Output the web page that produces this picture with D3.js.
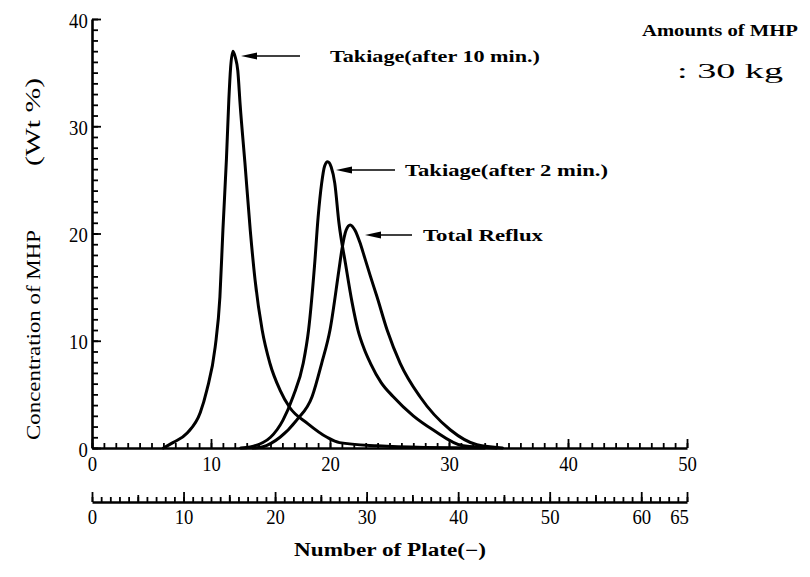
<!DOCTYPE html>
<html>
<head>
<meta charset="utf-8">
<script src="https://cdn.jsdelivr.net/npm/d3@7"></script>
<style>
  html, body { margin: 0; padding: 0; background: #fff; }
  svg { display: block; }
  text { font-family: "Liberation Serif", "DejaVu Serif", serif; fill: #000; }
</style>
</head>
<body>
<svg id="chart" width="810" height="577"></svg>
<script>
// ---- Data ----
const takiage10X = [6.0, 6.8, 8.0, 9.1, 9.65, 10.35, 10.75, 11.0, 11.3, 11.5, 11.65, 11.85, 12.05, 12.25, 12.45, 12.85, 13.3, 13.7, 14.3, 14.95, 15.8, 16.6, 18.1, 19.75, 20.8, 24.0, 28.0, 33.0];
const takiage10Y = [0.0, 0.5, 1.4, 3.3, 5.4, 9.4, 14.1, 20.3, 27.0, 32.5, 35.5, 37.0, 36.4, 35.2, 32.0, 26.6, 20.3, 15.7, 11.0, 7.9, 5.4, 3.8, 2.3, 1.0, 0.5, 0.2, 0.05, 0.0];

const takiage2X = [12.5, 13.3, 15.0, 16.05, 16.9, 17.75, 18.2, 18.7, 19.0, 19.3, 19.55, 19.8, 20.1, 20.4, 20.75, 21.3, 21.85, 22.35, 22.85, 23.4, 24.3, 25.3, 27.0, 28.65, 31.2, 34.0];
const takiage2Y = [0.0, 0.1, 1.0, 2.6, 4.8, 7.9, 11.0, 17.0, 21.5, 24.7, 26.3, 26.7, 26.2, 24.7, 21.0, 17.2, 13.6, 11.0, 9.3, 7.9, 6.1, 4.8, 3.0, 1.7, 0.2, 0.0];

const refluxX = [13.5, 14.3, 15.8, 17.2, 18.5, 19.3, 20.0, 20.75, 21.0, 21.35, 21.7, 22.1, 22.5, 22.9, 23.4, 23.95, 24.8, 25.9, 27.55, 30.1, 32.35, 34.5];
const refluxY = [0.0, 0.1, 1.0, 2.6, 4.8, 7.9, 11.0, 16.6, 18.5, 20.3, 20.8, 20.3, 19.2, 17.8, 16.0, 14.1, 11.0, 7.9, 4.8, 1.7, 0.3, 0.0];

const yTickLabels = [0, 10, 20, 30, 40];
const xTopTickLabels = [0, 10, 20, 30, 40, 50];
const xBottomTickLabels = [0, 10, 20, 30, 40, 50, 60, 65];

const annotations = [
  { text: "Takiage(after 10 min.)", series: "t10" },
  { text: "Takiage(after 2 min.)", series: "t2" },
  { text: "Total Reflux", series: "tr" }
];

// ---- Layout ----
const svg = d3.select("#chart");
const x = d3.scaleLinear().domain([0, 50]).range([92, 687]);
const x2 = d3.scaleLinear().domain([0, 65]).range([92, 687]);
const y = d3.scaleLinear().domain([0, 40]).range([448, 19]);
const bottomY = 502;
const AXIS_W = 2.6, TICK_W = 1.8;

function styleAxis(g, keepDomain) {
  g.selectAll(".tick line").attr("stroke", "#000").attr("stroke-width", TICK_W);
  if (keepDomain) g.select(".domain").attr("stroke", "#000").attr("stroke-width", AXIS_W);
  else g.select(".domain").remove();
  g.selectAll(".tick text").attr("fill", "#000").attr("font-size", 22)
    .attr("font-family", "Liberation Serif, DejaVu Serif, serif")
    .attr("transform", "scale(0.85,1)");
}

// Left (concentration) axis: minor ticks every 1, major every 10
svg.append("g").attr("transform", `translate(${x(0)},0)`)
  .call(d3.axisLeft(y).tickValues(d3.range(0, 41, 1)).tickSizeInner(-6).tickSizeOuter(0).tickFormat(""))
  .call(g => styleAxis(g, false));
svg.append("g").attr("transform", `translate(${x(0)},0)`)
  .call(d3.axisLeft(y).tickValues(yTickLabels).tickSizeInner(-9).tickSizeOuter(0).tickPadding(5).tickFormat(d3.format("d")))
  .call(g => styleAxis(g, true))
  .call(g => g.selectAll(".tick text").attr("transform", "translate(0,1) scale(0.85,1)"));

// Top x axis (plate number 0-50)
svg.append("g").attr("transform", `translate(0,${y(0)})`)
  .call(d3.axisBottom(x).tickValues(d3.range(0, 51, 1)).tickSizeInner(-5).tickSizeOuter(0).tickFormat(""))
  .call(g => styleAxis(g, false));
svg.append("g").attr("transform", `translate(0,${y(0)})`)
  .call(d3.axisBottom(x).tickValues(xTopTickLabels).tickSizeInner(-9).tickSizeOuter(0).tickPadding(7).tickFormat(d3.format("d")))
  .call(g => styleAxis(g, true));

// Bottom x axis (alternate plate scale 0-65)
svg.append("g").attr("transform", `translate(0,${bottomY})`)
  .call(d3.axisBottom(x2).tickValues(d3.range(0, 66, 1)).tickSizeInner(-5).tickSizeOuter(0).tickFormat(""))
  .call(g => styleAxis(g, false));
svg.append("g").attr("transform", `translate(0,${bottomY})`)
  .call(d3.axisBottom(x2).tickValues(d3.range(5, 65, 10)).tickSizeInner(-7).tickSizeOuter(0).tickFormat(""))
  .call(g => styleAxis(g, false));
svg.append("g").attr("transform", `translate(0,${bottomY})`)
  .call(d3.axisBottom(x2).tickValues(xBottomTickLabels).tickSizeInner(-10).tickSizeOuter(0).tickPadding(6).tickFormat(d3.format("d")))
  .call(g => styleAxis(g, true))
  .call(g => g.selectAll(".tick text").filter(d => d === 65).attr("transform", "translate(-8,0) scale(0.85,1)"));

// Axis titles
svg.append("text").attr("transform", "translate(40,335) rotate(-90)")
  .attr("text-anchor", "middle").attr("font-size", 18)
  .attr("textLength", 210).attr("lengthAdjust", "spacingAndGlyphs")
  .text("Concentration of MHP");
svg.append("text").attr("transform", "translate(40,122) rotate(-90)")
  .attr("text-anchor", "middle").attr("font-size", 20)
  .attr("textLength", 88).attr("lengthAdjust", "spacingAndGlyphs")
  .text("(Wt %)");
svg.append("text").attr("x", 390).attr("y", 556)
  .attr("text-anchor", "middle").attr("font-size", 18).attr("font-weight", "bold")
  .attr("textLength", 192).attr("lengthAdjust", "spacingAndGlyphs")
  .text("Number of Plate(−)");

// Curves
const line = d3.line().x(d => x(d[0])).y(d => y(d[1])).curve(d3.curveMonotoneX);
const series = {
  t10: d3.zip(takiage10X, takiage10Y),
  t2: d3.zip(takiage2X, takiage2Y),
  tr: d3.zip(refluxX, refluxY)
};
Object.values(series).forEach(pts => {
  svg.append("path").datum(pts).attr("d", line)
    .attr("fill", "none").attr("stroke", "#000").attr("stroke-width", 3)
    .attr("stroke-linejoin", "round").attr("stroke-linecap", "round");
});

// Annotations (arrow pointing to each peak)
const annoLayout = {
  t10: { ay: 56, tip: 241, tailX: 300, textX: 330, textW: 210 },
  t2: { ay: 170, tip: 336, tailX: 395, textX: 405, textW: 203 },
  tr: { ay: 235, tip: 365, tailX: 412, textX: 423, textW: 120 }
};
annotations.forEach(a => {
  const L = annoLayout[a.series];
  svg.append("line").attr("x1", L.tip + 10).attr("x2", L.tailX).attr("y1", L.ay).attr("y2", L.ay)
    .attr("stroke", "#000").attr("stroke-width", 1.5);
  svg.append("path")
    .attr("d", `M${L.tip},${L.ay} L${L.tip + 16},${L.ay - 3.5} L${L.tip + 16},${L.ay + 3.5} Z`)
    .attr("fill", "#000");
  svg.append("text").attr("x", L.textX).attr("y", L.ay + 6)
    .attr("font-size", 17).attr("font-weight", "bold")
    .attr("textLength", L.textW).attr("lengthAdjust", "spacingAndGlyphs")
    .text(a.text);
});

// Amount note
svg.append("text").attr("x", 642).attr("y", 36).attr("font-size", 17).attr("font-weight", "bold")
  .attr("textLength", 156).attr("lengthAdjust", "spacingAndGlyphs").text("Amounts of MHP");
svg.append("text").attr("x", 677).attr("y", 78).attr("font-size", 20)
  .attr("textLength", 106).attr("lengthAdjust", "spacingAndGlyphs").text(": 30 kg");
</script>
</body>
</html>
